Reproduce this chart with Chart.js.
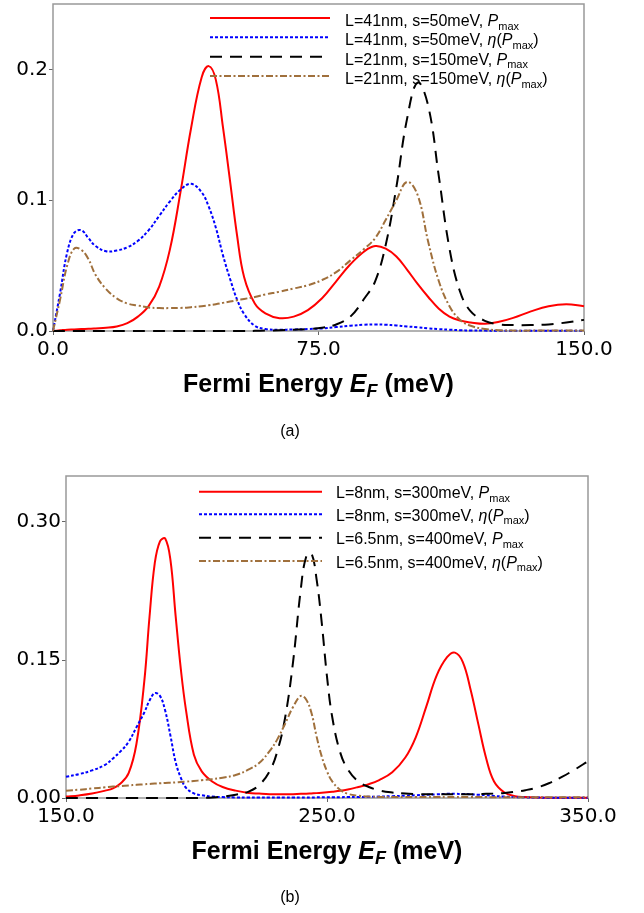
<!DOCTYPE html>
<html>
<head>
<meta charset="utf-8">
<script src="https://cdn.jsdelivr.net/npm/chart.js@4.4.0/dist/chart.umd.min.js"></script>
<style>
  html, body { margin: 0; padding: 0; background: #fff; }
  #wrap { position: relative; width: 644px; height: 913px; }
  .panel { position: absolute; left: 0; width: 644px; }
</style>
</head>
<body>
<div id="wrap">
  <div class="panel" style="top:0;height:460px"><canvas id="chartA" width="644" height="460"></canvas></div>
  <div class="panel" style="top:460px;height:453px"><canvas id="chartB" width="644" height="453"></canvas></div>
</div>
<script>
// ---------- Panel (a): Fermi energy 0–150 meV ----------
const energyA = [0, 2, 4, 6, 8, 10, 12, 15, 18, 21, 24, 27, 30, 33, 36, 39, 42, 44, 46, 48, 50, 52, 54, 57,
  60, 64, 68, 72, 76, 80, 84, 88, 91, 94, 97, 100, 103, 106, 109, 112, 115, 118, 122, 126, 130, 135, 140, 145, 150];

const pmaxL41 = [0, 0.0005, 0.001, 0.0012, 0.0015, 0.0017, 0.002, 0.0025, 0.0035, 0.006, 0.011, 0.019,
  0.034, 0.062, 0.106, 0.155, 0.194, 0.2025, 0.192, 0.156, 0.115, 0.073, 0.041, 0.021,
  0.0135, 0.0098, 0.011, 0.016, 0.025, 0.038, 0.051, 0.061, 0.065, 0.063, 0.057, 0.047,
  0.036, 0.026, 0.017, 0.011, 0.008, 0.0065, 0.0055, 0.007, 0.010, 0.015, 0.019, 0.0205, 0.019];

const etaL41 = [0, 0.029, 0.060, 0.075, 0.077, 0.071, 0.065, 0.061, 0.0615, 0.064, 0.069, 0.077,
  0.088, 0.099, 0.108, 0.1125, 0.106, 0.095, 0.079, 0.058, 0.040, 0.024, 0.013, 0.004,
  0.0015, 0.001, 0.0012, 0.0015, 0.002, 0.003, 0.004, 0.0048, 0.005, 0.0048, 0.0042, 0.0035,
  0.0028, 0.002, 0.0014, 0.001, 0.0006, 0.0004, 0.0003, 0.0002, 0.0002, 0.0002, 0.0002, 0.0002, 0.0002];

const pmaxL21 = [0, 0, 0, 0, 0, 0, 0, 0, 0, 0, 0, 0, 0, 0, 0, 0, 0, 0, 0, 0, 0, 0, 0, 0.0001,
  0.0003, 0.0006, 0.001, 0.0015, 0.0025, 0.005, 0.011, 0.025, 0.038, 0.066, 0.11, 0.162,
  0.19, 0.172, 0.118, 0.063, 0.030, 0.015, 0.0078, 0.005, 0.0045, 0.0045, 0.005, 0.0065, 0.0085];

const etaL21 = [0, 0.024, 0.050, 0.063, 0.062, 0.055, 0.043, 0.032, 0.025, 0.021, 0.0195, 0.018,
  0.0175, 0.0175, 0.0176, 0.0182, 0.019, 0.0197, 0.0205, 0.0215, 0.0225, 0.0235, 0.0245, 0.026,
  0.028, 0.030, 0.0325, 0.035, 0.039, 0.045, 0.054, 0.063, 0.071, 0.085, 0.100, 0.114,
  0.104, 0.068, 0.038, 0.019, 0.0085, 0.004, 0.0015, 0.0006, 0.0003, 0.0003, 0.0003, 0.0003, 0.0003];

const labelsA = ['L=41nm, s=50meV', 'L=41nm, s=50meV', 'L=21nm, s=150meV', 'L=21nm, s=150meV'];
const xTicksA = [0, 75, 150];
const yTicksA = [0, 0.1, 0.2];

// ---------- Panel (b): Fermi energy 150–350 meV ----------
const energyB = [150, 155, 160, 165, 168, 171, 174, 177, 180, 182, 184, 186, 188, 190, 192, 194, 196, 199,
  202, 206, 210, 215, 220, 224, 228, 231, 234, 237, 240, 242, 244, 246, 248, 250, 252, 255,
  258, 262, 266, 270, 275, 280, 284, 288, 292, 296, 299, 302, 305, 308, 311, 314, 318, 322,
  326, 330, 335, 340, 345, 350];

const pmaxL8 = [0.0015, 0.0028, 0.0048, 0.008, 0.0105, 0.016, 0.027, 0.059, 0.127, 0.197, 0.255, 0.279,
  0.282, 0.259, 0.198, 0.14, 0.095, 0.047, 0.029, 0.018, 0.012, 0.008, 0.0055, 0.0048,
  0.0042, 0.004, 0.004, 0.0042, 0.0045, 0.0047, 0.005, 0.0053, 0.0057, 0.0062, 0.0068, 0.0078,
  0.0093, 0.012, 0.015, 0.0195, 0.028, 0.044, 0.066, 0.099, 0.133, 0.153, 0.158, 0.148,
  0.118, 0.080, 0.043, 0.018, 0.006, 0.002, 0.001, 0.0005, 0.0003, 0.0003, 0.0003, 0.0003];

const etaL8 = [0.023, 0.026, 0.030, 0.036, 0.043, 0.051, 0.061, 0.077, 0.093, 0.106, 0.114, 0.111,
  0.095, 0.068, 0.039, 0.022, 0.011, 0.005, 0.003, 0.0015, 0.001, 0.0006, 0.0006, 0.0006,
  0.0006, 0.0006, 0.0006, 0.0006, 0.0006, 0.0006, 0.0006, 0.0007, 0.0007, 0.0008, 0.0008, 0.0009,
  0.001, 0.001, 0.0013, 0.0015, 0.002, 0.0025, 0.003, 0.0035, 0.004, 0.0045, 0.0045, 0.0044,
  0.004, 0.0035, 0.003, 0.0022, 0.0015, 0.001, 0.0007, 0.0005, 0.0003, 0.0003, 0.0003, 0.0003];

const pmaxL65 = [0, 0, 0, 0, 0, 0, 0, 0, 0, 0, 0, 0, 0, 0, 0, 0, 0, 0,
  0.0002, 0.0006, 0.0015, 0.0035, 0.007, 0.014, 0.029, 0.051, 0.088, 0.148, 0.228, 0.262,
  0.266, 0.238, 0.19, 0.132, 0.088, 0.05, 0.031, 0.018, 0.012, 0.0083, 0.006, 0.0048,
  0.0043, 0.004, 0.004, 0.004, 0.004, 0.004, 0.0041, 0.0043, 0.0045, 0.0048, 0.0055, 0.0068,
  0.0085, 0.011, 0.016, 0.023, 0.031, 0.040];

const etaL65 = [0.008, 0.009, 0.0103, 0.0116, 0.0124, 0.013, 0.0137, 0.0143, 0.0149, 0.0153, 0.0157, 0.016,
  0.0164, 0.0167, 0.017, 0.0174, 0.0178, 0.0185, 0.0193, 0.0205, 0.022, 0.025, 0.031, 0.038,
  0.051, 0.064, 0.081, 0.099, 0.111, 0.107, 0.093, 0.067, 0.045, 0.029, 0.018, 0.009,
  0.0045, 0.0025, 0.0015, 0.0012, 0.001, 0.001, 0.001, 0.001, 0.001, 0.001, 0.001, 0.001,
  0.001, 0.001, 0.001, 0.0009, 0.0009, 0.0009, 0.0008, 0.0008, 0.0008, 0.0008, 0.0008, 0.0008];

const labelsB = ['L=8nm, s=300meV', 'L=8nm, s=300meV', 'L=6.5nm, s=400meV', 'L=6.5nm, s=400meV'];
const xTicksB = [150, 250, 350];
const yTicksB = [0, 0.15, 0.30];

// quantity plotted by each series: peak power or efficiency at peak power
const quantity = ['P', 'eta', 'P', 'eta'];

// ---------- styling ----------
const lineStyles = [
  { color: '#ff0000', dash: [] },
  { color: '#0000ff', dash: [3, 2] },
  { color: '#000000', dash: [12, 8] },
  { color: '#a0703c', dash: [7, 2.5, 2, 2.5] }
];
const SANS = '"Liberation Sans", Arial, Helvetica, sans-serif';
const TICK_FONT = { family: '"DejaVu Sans", Verdana, sans-serif', size: 20 };

function drawRuns(ctx, runs, x, y, align) {
  let total = 0;
  runs.forEach(r => { ctx.font = r.font; r.w = ctx.measureText(r.t).width; total += r.w; });
  let cx = align === 'center' ? x - total / 2 : x;
  ctx.textAlign = 'left';
  ctx.textBaseline = 'alphabetic';
  runs.forEach(r => { ctx.font = r.font; ctx.fillText(r.t, cx, y + (r.dy || 0)); cx += r.w; });
}

function legendRuns(label, kind, size) {
  const base = size + 'px ' + SANS;
  const ital = 'italic ' + base;
  const sub = Math.round(size * 0.7) + 'px ' + SANS;
  const runs = [{ t: label + ', ', font: base }];
  if (kind === 'eta') runs.push({ t: 'η', font: ital }, { t: '(', font: base });
  runs.push({ t: 'P', font: ital }, { t: 'max', font: sub, dy: size * 0.22 });
  if (kind === 'eta') runs.push({ t: ')', font: base });
  return runs;
}

function makePanel(canvasId, p) {
  const datasets = p.series.map((vals, i) => ({
    label: p.labels[i],
    data: p.energy.map((e, k) => ({ x: e, y: vals[k] })),
    borderColor: lineStyles[i].color,
    borderDash: lineStyles[i].dash,
    borderWidth: 2,
    pointRadius: 0,
    fill: false,
    tension: 0.4,
    order: 4 - i,
    clip: 3
  }));

  const frame = {
    id: 'frame',
    beforeDatasetsDraw(chart) {
      const a = chart.chartArea, ctx = chart.ctx;
      ctx.save();
      ctx.strokeStyle = '#999';
      ctx.lineWidth = 1.5;
      ctx.strokeRect(a.left, a.top, a.right - a.left, a.bottom - a.top);
      ctx.restore();
    }
  };

  const annotations = {
    id: 'annotations',
    afterDraw(chart) {
      const a = chart.chartArea, ctx = chart.ctx;
      ctx.save();
      ctx.fillStyle = '#000';
      // legend inside the plot
      p.labels.forEach((lab, i) => {
        const y = p.legend.rows[i];
        ctx.save();
        ctx.strokeStyle = lineStyles[i].color;
        ctx.setLineDash(lineStyles[i].dash);
        ctx.lineWidth = 2;
        ctx.beginPath();
        ctx.moveTo(p.legend.x0, y);
        ctx.lineTo(p.legend.x1, y);
        ctx.stroke();
        ctx.restore();
        drawRuns(ctx, legendRuns(lab, quantity[i], 16), p.legend.textX, y + p.legend.baseOffset, 'left');
      });
      // axis title
      const cx = (a.left + a.right) / 2;
      const bold = 'bold 25px ' + SANS;
      drawRuns(ctx, [
        { t: 'Fermi Energy ', font: bold },
        { t: 'E', font: 'italic ' + bold },
        { t: 'F', font: 'italic bold 18px ' + SANS, dy: 5 },
        { t: ' (meV)', font: bold }
      ], cx, p.titleY, 'center');
      // panel caption
      ctx.font = '16px ' + SANS;
      ctx.textAlign = 'center';
      ctx.textBaseline = 'middle';
      ctx.fillText(p.caption, p.captionX, p.captionY);
      ctx.restore();
    }
  };

  return new Chart(document.getElementById(canvasId), {
    type: 'line',
    data: { datasets },
    options: {
      responsive: false,
      animation: false,
      devicePixelRatio: 1,
      layout: { padding: { left: 0, right: p.padRight, top: p.padTop, bottom: 0 } },
      plugins: { legend: { display: false }, tooltip: { enabled: false } },
      scales: {
        x: {
          type: 'linear',
          min: p.xMin, max: p.xMax,
          afterBuildTicks: s => { s.ticks = p.xTicks.map(v => ({ value: v })); },
          afterFit: s => { s.height = p.xAxisHeight; s.paddingLeft = 0; s.paddingRight = 0; },
          ticks: {
            font: TICK_FONT, color: '#000', padding: 3, maxRotation: 0, autoSkip: false,
            callback: v => Number(v).toFixed(1)
          },
          grid: { drawOnChartArea: false, drawTicks: true, tickLength: 4, color: '#666', lineWidth: 1 },
          border: { display: false }
        },
        y: {
          type: 'linear',
          min: 0, max: p.yMax,
          afterBuildTicks: s => { s.ticks = p.yTicks.map(v => ({ value: v })); },
          afterFit: s => { s.width = p.yAxisWidth; s.paddingTop = 0; s.paddingBottom = 0; },
          ticks: {
            font: TICK_FONT, color: '#000', padding: 1,
            callback: v => Number(v).toFixed(p.yDigits)
          },
          grid: { drawOnChartArea: false, drawTicks: true, tickLength: 4, color: '#666', lineWidth: 1 },
          border: { display: false }
        }
      }
    },
    plugins: [frame, annotations]
  });
}

makePanel('chartA', {
  energy: energyA,
  series: [pmaxL41, etaL41, pmaxL21, etaL21],
  labels: labelsA,
  xMin: 0, xMax: 150, xTicks: xTicksA,
  yMax: 0.25, yTicks: yTicksA, yDigits: 1,
  yAxisWidth: 53, xAxisHeight: 129, padTop: 4, padRight: 60,
  legend: { x0: 210, x1: 330, textX: 345, rows: [18, 37.3, 56.7, 76], baseOffset: 8 },
  titleY: 392, caption: '(a)', captionX: 290, captionY: 432
});

makePanel('chartB', {
  energy: energyB,
  series: [pmaxL8, etaL8, pmaxL65, etaL65],
  labels: labelsB,
  xMin: 150, xMax: 350, xTicks: xTicksB,
  yMax: 0.35, yTicks: yTicksB, yDigits: 2,
  yAxisWidth: 66, xAxisHeight: 115, padTop: 16, padRight: 56,
  legend: { x0: 199, x1: 322, textX: 336, rows: [31.7, 54.3, 77.7, 101], baseOffset: 6.5 },
  titleY: 399, caption: '(b)', captionX: 290, captionY: 438
});
</script>
</body>
</html>
